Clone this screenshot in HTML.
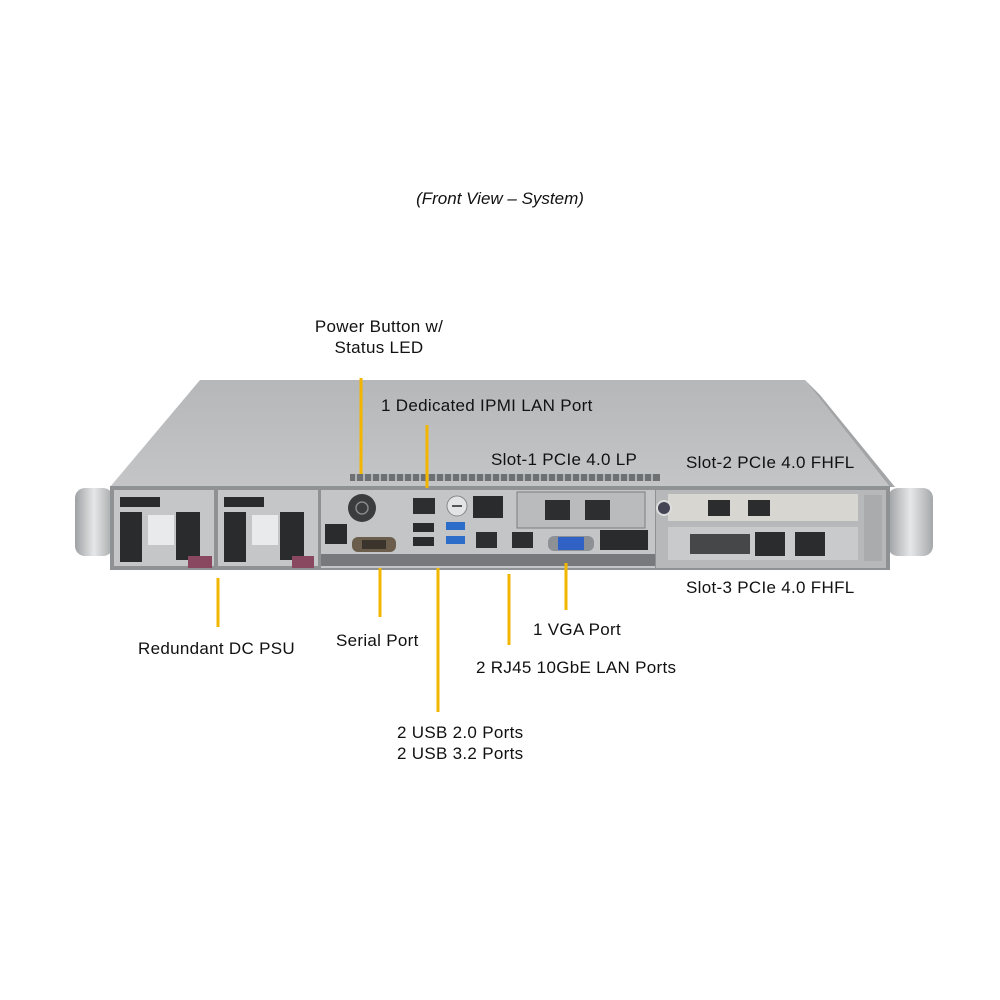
<!DOCTYPE html>
<html><head><meta charset="utf-8"><style>
html,body{margin:0;padding:0;background:#fff;width:1000px;height:1000px;overflow:hidden}
svg{display:block}
text{font-family:"Liberation Sans",Arial,sans-serif;font-size:17px;letter-spacing:0.3px;fill:#111}
</style></head><body>
<svg width="1000" height="1000" viewBox="0 0 1000 1000">
<defs>
<linearGradient id="top" x1="0" y1="0" x2="0" y2="1"><stop offset="0" stop-color="#b6b7b9"/><stop offset="1" stop-color="#c4c5c7"/></linearGradient>
<linearGradient id="ear" x1="0" y1="0" x2="1" y2="0"><stop offset="0" stop-color="#9ea1a4"/><stop offset=".5" stop-color="#e6e7e8"/><stop offset="1" stop-color="#a5a8aa"/></linearGradient>
</defs>
<text x="500" y="204" text-anchor="middle" font-style="italic" style="font-size:17px;letter-spacing:0">(Front View – System)</text>
<polygon points="200,380 805,380 890,487 110,487" fill="url(#top)"/>
<polygon points="805,380 820,395 895,487 890,487" fill="#a2a4a6"/>
<rect x="350" y="474" width="310" height="7" fill="#6e7174"/>
<g stroke="#c6c8ca" stroke-width="1.5">
<path d="M356 474v7M364 474v7M372 474v7M380 474v7M388 474v7M396 474v7M404 474v7M412 474v7M420 474v7M428 474v7M436 474v7M444 474v7M452 474v7M460 474v7M468 474v7M476 474v7M484 474v7M492 474v7M500 474v7M508 474v7M516 474v7M524 474v7M532 474v7M540 474v7M548 474v7M556 474v7M564 474v7M572 474v7M580 474v7M588 474v7M596 474v7M604 474v7M612 474v7M620 474v7M628 474v7M636 474v7M644 474v7M652 474v7"/>
</g>
<rect x="75" y="488" width="38" height="68" rx="10" fill="url(#ear)"/>
<rect x="888" y="488" width="45" height="68" rx="10" fill="url(#ear)"/>
<rect x="110" y="486" width="780" height="84" fill="#8f9295"/>
<rect x="114" y="490" width="100" height="76" fill="#c4c6c8"/>
<rect x="218" y="490" width="100" height="76" fill="#c4c6c8"/>
<g fill="#2a2b2d">
<rect x="120" y="497" width="40" height="10"/><rect x="120" y="512" width="22" height="50"/><rect x="176" y="512" width="24" height="48"/>
<rect x="224" y="497" width="40" height="10"/><rect x="224" y="512" width="22" height="50"/><rect x="280" y="512" width="24" height="48"/>
</g>
<rect x="148" y="515" width="26" height="30" fill="#e9eaeb"/><rect x="252" y="515" width="26" height="30" fill="#e9eaeb"/>
<rect x="188" y="556" width="24" height="12" fill="#8a4760"/><rect x="292" y="556" width="22" height="12" fill="#8a4760"/>
<rect x="321" y="490" width="334" height="78" fill="#c3c5c7"/>
<rect x="321" y="554" width="334" height="12" fill="#77797c"/>
<circle cx="362" cy="508" r="14" fill="#3b3c3e"/><circle cx="362" cy="508" r="6" fill="none" stroke="#888" stroke-width="1.5"/>
<rect x="413" y="498" width="22" height="16" fill="#2d2e30"/>
<circle cx="457" cy="506" r="10" fill="#e3e4e5" stroke="#888"/><rect x="452" y="505" width="10" height="2" fill="#555"/>
<rect x="413" y="523" width="21" height="9" fill="#2a2b2c"/><rect x="413" y="537" width="21" height="9" fill="#2a2b2c"/>
<rect x="446" y="522" width="19" height="8" fill="#2b6dc8"/><rect x="446" y="536" width="19" height="8" fill="#2b6dc8"/>
<rect x="352" y="537" width="44" height="15" rx="6" fill="#6b5d4c"/><rect x="362" y="540" width="24" height="9" fill="#3a342c"/>
<rect x="476" y="532" width="21" height="16" fill="#2d2e30"/><rect x="512" y="532" width="21" height="16" fill="#2d2e30"/>
<rect x="548" y="536" width="46" height="15" rx="6" fill="#8d9196"/><rect x="558" y="537" width="26" height="13" fill="#2f62c4"/>
<g fill="#2a2b2d"><rect x="473" y="496" width="30" height="22"/><rect x="325" y="524" width="22" height="20"/><rect x="600" y="530" width="48" height="20"/></g>
<rect x="517" y="492" width="128" height="36" fill="#b9bbbd" stroke="#7b7e81"/>
<rect x="545" y="500" width="25" height="20" fill="#2d2e30"/><rect x="585" y="500" width="25" height="20" fill="#2d2e30"/>
<rect x="656" y="490" width="230" height="78" fill="#b6b8ba"/>
<rect x="668" y="494" width="190" height="27" fill="#d8d6d0"/>
<rect x="708" y="500" width="22" height="16" fill="#2b2c2e"/><rect x="748" y="500" width="22" height="16" fill="#2b2c2e"/>
<rect x="668" y="527" width="190" height="33" fill="#c9cacb"/>
<rect x="690" y="534" width="60" height="20" fill="#454749"/><rect x="755" y="532" width="30" height="24" fill="#2b2c2e"/><rect x="795" y="532" width="30" height="24" fill="#2b2c2e"/>
<circle cx="664" cy="508" r="7" fill="#445" stroke="#ddd" stroke-width="2"/>
<rect x="864" y="495" width="18" height="66" fill="#a9abad"/>
<g stroke="#f2b600" stroke-width="3">
<line x1="361" y1="378" x2="361" y2="474"/>
<line x1="427" y1="425" x2="427" y2="488"/>
<line x1="218" y1="578" x2="218" y2="627"/>
<line x1="380" y1="568" x2="380" y2="617"/>
<line x1="438" y1="568" x2="438" y2="712"/>
<line x1="509" y1="574" x2="509" y2="645"/>
<line x1="566" y1="563" x2="566" y2="610"/>
</g>
<text x="379" y="332" text-anchor="middle">Power Button w/</text>
<text x="379" y="353" text-anchor="middle">Status LED</text>
<text x="381" y="411">1 Dedicated IPMI  LAN Port</text>
<text x="491" y="465">Slot-1  PCIe 4.0 LP</text>
<text x="686" y="468">Slot-2  PCIe 4.0 FHFL</text>
<text x="686" y="593">Slot-3  PCIe 4.0 FHFL</text>
<text x="138" y="654">Redundant  DC PSU</text>
<text x="336" y="646">Serial Port</text>
<text x="533" y="635">1 VGA Port</text>
<text x="476" y="673">2 RJ45  10GbE LAN Ports</text>
<text x="397" y="738">2 USB 2.0 Ports</text>
<text x="397" y="759">2 USB 3.2 Ports</text>
</svg>
</body></html>
